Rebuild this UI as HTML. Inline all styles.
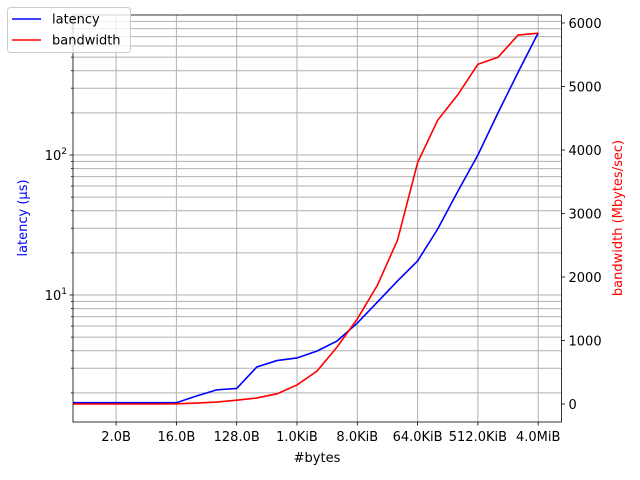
<!DOCTYPE html>
<html><head><meta charset="utf-8"><style>
body{margin:0;background:#fff;}
svg{display:block;font-family:"DejaVu Sans","Liberation Sans",sans-serif;}
</style></head><body>
<svg id="chart" width="640" height="480">
<rect width="640" height="480" fill="#fff"/>
<g id="grid"></g>
<g id="lines"></g>
<g id="axes"></g>
</svg>
<script>
const sizesLog2 = [-1.15,0,1,2,3,4,5,6,7,8,9,10,11,12,13,14,15,16,17,18,19,20,21,22];
const latency = [1.7,1.7,1.7,1.7,1.7,1.7,1.9,2.1,2.15,3.06,3.4,3.55,3.98,4.7,6.3,8.9,12.6,17.5,29.6,55,100,200,390,745];
const bandwidth = [0,0,0,0,0,3,15,30,60,95,160,300,520,900,1340,1870,2580,3800,4470,4870,5350,5460,5810,5840];
const xTickLabels = ["2.0B","16.0B","128.0B","1.0KiB","8.0KiB","64.0KiB","512.0KiB","4.0MiB"];
const xTickPow = [1,4,7,10,13,16,19,22];
const bwTicks = [0,1000,2000,3000,4000,5000,6000];

const L=73,R=561.5,T=15,B=422;
const NS="http://www.w3.org/2000/svg";
const xS=k=>96+k*20.1;
const yLat=v=>295-(Math.log10(v)-1)*140;
const yBw=v=>404-v*0.0635;
function mk(tag,attrs,parent,text){const e=document.createElementNS(NS,tag);for(const k in attrs)e.setAttribute(k,attrs[k]);if(text!==undefined)e.textContent=text;parent.appendChild(e);return e;}
const grid=document.getElementById('grid'),lines=document.getElementById('lines'),axes=document.getElementById('axes');

xTickPow.forEach((p,i)=>{
  const x=xS(p);
  const g=mk('line',{x1:x,x2:x,y1:T,y2:B,stroke:'#b0b0b0','stroke-width':1},grid);
  
  
  mk('line',{x1:x,x2:x,y1:B,y2:B+3.5,stroke:'#000','stroke-width':0.8},axes);
  const t=mk('text',{x:x,y:B+19,'text-anchor':'middle','font-size':13},axes,xTickLabels[i]);
  
  
});
for(let d=0;d<=3;d++){for(let m=1;m<=9;m++){
  const v=m*Math.pow(10,d);const y=yLat(v);
  if(y<T+1||y>B-0.5)continue;
  const g=mk('line',{x1:L,x2:R,y1:y,y2:y,stroke:'#b0b0b0','stroke-width':1},grid);
  
  
  mk('line',{x1:L,x2:L-(m==1?3.5:2),y1:y,y2:y,stroke:'#000','stroke-width':0.8},axes);
  if(m==1){
    const t=mk('text',{x:L-6,y:y+5,'text-anchor':'end','font-size':13},axes);
    
    
    t.appendChild(document.createTextNode('10'));
    mk('tspan',{dy:-6,'font-size':9},t,String(d));
  }
}}
bwTicks.forEach(v=>{
  const y=yBw(v);
  mk('line',{x1:R,x2:R+3.5,y1:y,y2:y,stroke:'#000','stroke-width':0.8},axes);
  const t=mk('text',{x:R+7,y:y+5,'font-size':13},axes,String(v));
  
  
});
const clip=mk('clipPath',{id:'pc'},lines);mk('rect',{x:L,y:T,width:R-L,height:B-T},clip);
const lat=mk('polyline',{points:sizesLog2.map((k,i)=>xS(k)+','+yLat(latency[i])).join(' '),fill:'none',stroke:'#0000ff','stroke-width':1.6,'clip-path':'url(#pc)'},lines);


const bw=mk('polyline',{points:sizesLog2.map((k,i)=>xS(k)+','+yBw(bandwidth[i])).join(' '),fill:'none',stroke:'#ff0000','stroke-width':1.6,'clip-path':'url(#pc)'},lines);


const fr=mk('rect',{x:L,y:T,width:R-L,height:B-T,fill:'none',stroke:'#000','stroke-width':0.8},axes);


const xl=mk('text',{x:317,y:462,'text-anchor':'middle','font-size':13},axes,'#bytes');


const yl=mk('text',{x:0,y:0,'text-anchor':'middle','font-size':13,fill:'#0000ff',transform:'translate(27,218) rotate(-90)'},axes,'latency (μs)');


const yr=mk('text',{x:0,y:0,'text-anchor':'middle','font-size':13,fill:'#ff0000',transform:'translate(622,218) rotate(-90)'},axes,'bandwidth (Mbytes/sec)');


const lg=mk('g',{},axes);


mk('rect',{x:7.5,y:7.5,width:123,height:45,rx:3,fill:'#fff','fill-opacity':0.8,stroke:'#ccc'},lg);
mk('line',{x1:12,x2:41,y1:19,y2:19,stroke:'#0000ff','stroke-width':1.5},lg);
const l1=mk('text',{x:52,y:23.5,'font-size':13},lg,'latency');


mk('line',{x1:12,x2:41,y1:40,y2:40,stroke:'#ff0000','stroke-width':1.5},lg);
const l2=mk('text',{x:52,y:44.5,'font-size':13},lg,'bandwidth');


</script>
</body></html>
